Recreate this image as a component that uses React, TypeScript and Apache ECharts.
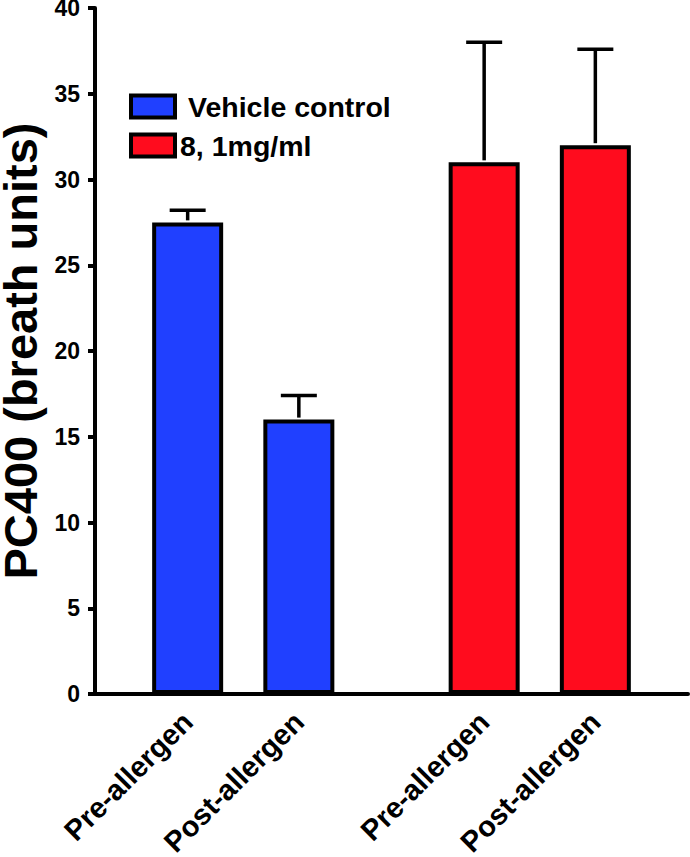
import React, { useEffect, useRef } from 'react';
import * as echarts from 'echarts';

// ---- data ----
const groupLabels = ['Pre-allergen', 'Post-allergen'];
const seriesNames = ['Vehicle control', '8, 1mg/ml'];
const vehicleMean = [27.5, 16.0];
const vehicleSem = [0.7, 1.4];
const drugMean = [31.0, 32.0];
const drugSem = [7.0, 5.6];
const yAxisTitle = 'PC400 (breath units)';
const yMin = 0;
const yMax = 40;
const yStep = 5;

// ---- layout (slot positions on the category axis) ----
const SLOT_COUNT = 16;
const vehicleSlots = [2, 5];
const drugSlots = [10, 13];

const FONT = '"Liberation Sans", Arial, Helvetica, sans-serif';
const BLUE = '#2040ff';
const RED = '#ff0c1e';

export default function App() {
  const ref = useRef<HTMLDivElement>(null);

  useEffect(() => {
    if (!ref.current) return;
    const chart = echarts.init(ref.current, undefined, { renderer: 'svg' });

    const slotLabels: string[] = new Array(SLOT_COUNT).fill('');
    vehicleSlots.forEach((s, i) => (slotLabels[s] = groupLabels[i]));
    drugSlots.forEach((s, i) => (slotLabels[s] = groupLabels[i]));

    const vehicleData: (number | null)[] = new Array(SLOT_COUNT).fill(null);
    vehicleSlots.forEach((s, i) => (vehicleData[s] = vehicleMean[i]));
    const drugData: (number | null)[] = new Array(SLOT_COUNT).fill(null);
    drugSlots.forEach((s, i) => (drugData[s] = drugMean[i]));

    const errData: number[][] = [
      ...vehicleSlots.map((s, i) => [s, vehicleMean[i], vehicleSem[i]]),
      ...drugSlots.map((s, i) => [s, drugMean[i], drugSem[i]]),
    ];

    chart.setOption({
      animation: false,
      backgroundColor: '#fff',
      grid: { left: 95, right: 2, top: 8, bottom: 163, containLabel: false, outerBoundsMode: 'none' },
      legend: {
        orient: 'vertical',
        left: 124,
        top: 87,
        itemWidth: 44,
        itemHeight: 22,
        itemGap: 10,
        icon: 'rect',
        itemStyle: { borderColor: '#000', borderWidth: 4 },
        textStyle: { fontFamily: FONT, fontWeight: 'bold', fontSize: 28.5, color: '#000', lineHeight: 28 },
        data: [
          { name: seriesNames[0], textStyle: { padding: [0, 0, 0, 8] } },
          { name: seriesNames[1] },
        ],
      },
      xAxis: {
        type: 'category',
        data: slotLabels,
        axisTick: { show: false },
        axisLine: { show: true, lineStyle: { color: '#000', width: 4 } },
        axisLabel: {
          interval: 0,
          rotate: 45,
          fontFamily: FONT,
          fontWeight: 'bold',
          fontSize: 29,
          color: '#000',
          margin: 23,
        },
        splitLine: { show: false },
      },
      yAxis: {
        type: 'value',
        min: yMin,
        max: yMax,
        interval: yStep,
        name: yAxisTitle,
        nameLocation: 'middle',
        nameRotate: 90,
        nameGap: 48,
        nameTextStyle: { fontFamily: FONT, fontWeight: 'bold', fontSize: 47, color: '#000', lineHeight: 42 },
        axisLine: { show: true, lineStyle: { color: '#000', width: 4 } },
        axisTick: { show: true, length: 7, lineStyle: { color: '#000', width: 4 } },
        splitLine: { show: false },
        axisLabel: { fontFamily: FONT, fontWeight: 'bold', fontSize: 23, color: '#000', margin: 15, lineHeight: 16 },
      },
      series: [
        {
          name: seriesNames[0],
          type: 'bar',
          data: vehicleData,
          barWidth: 71,
          barGap: '-100%',
          itemStyle: { color: BLUE, borderColor: '#000', borderWidth: 4 },
        },
        {
          name: seriesNames[1],
          type: 'bar',
          data: drugData,
          barWidth: 71,
          barGap: '-100%',
          itemStyle: { color: RED, borderColor: '#000', borderWidth: 4 },
        },
        {
          name: 'error',
          type: 'custom',
          data: errData,
          encode: { x: 0, y: 1 },
          z: 5,
          renderItem: (params: any, api: any) => {
            const x = api.value(0);
            const m = api.value(1);
            const e = api.value(2);
            const base = api.coord([x, m]);
            const top = api.coord([x, m + e]);
            const half = 18;
            const st = { stroke: '#000', lineWidth: 3.5 };
            return {
              type: 'group',
              children: [
                { type: 'line', shape: { x1: base[0], y1: base[1] - 2, x2: top[0], y2: top[1] }, style: st },
                { type: 'line', shape: { x1: top[0] - half, y1: top[1], x2: top[0] + half, y2: top[1] }, style: st },
              ],
            };
          },
        },
      ],
    });

    return () => chart.dispose();
  }, []);

  return (
    <div
      ref={ref}
      style={{ position: 'absolute', left: 0, top: 0, width: 690, height: 857, background: '#fff' }}
    />
  );
}
